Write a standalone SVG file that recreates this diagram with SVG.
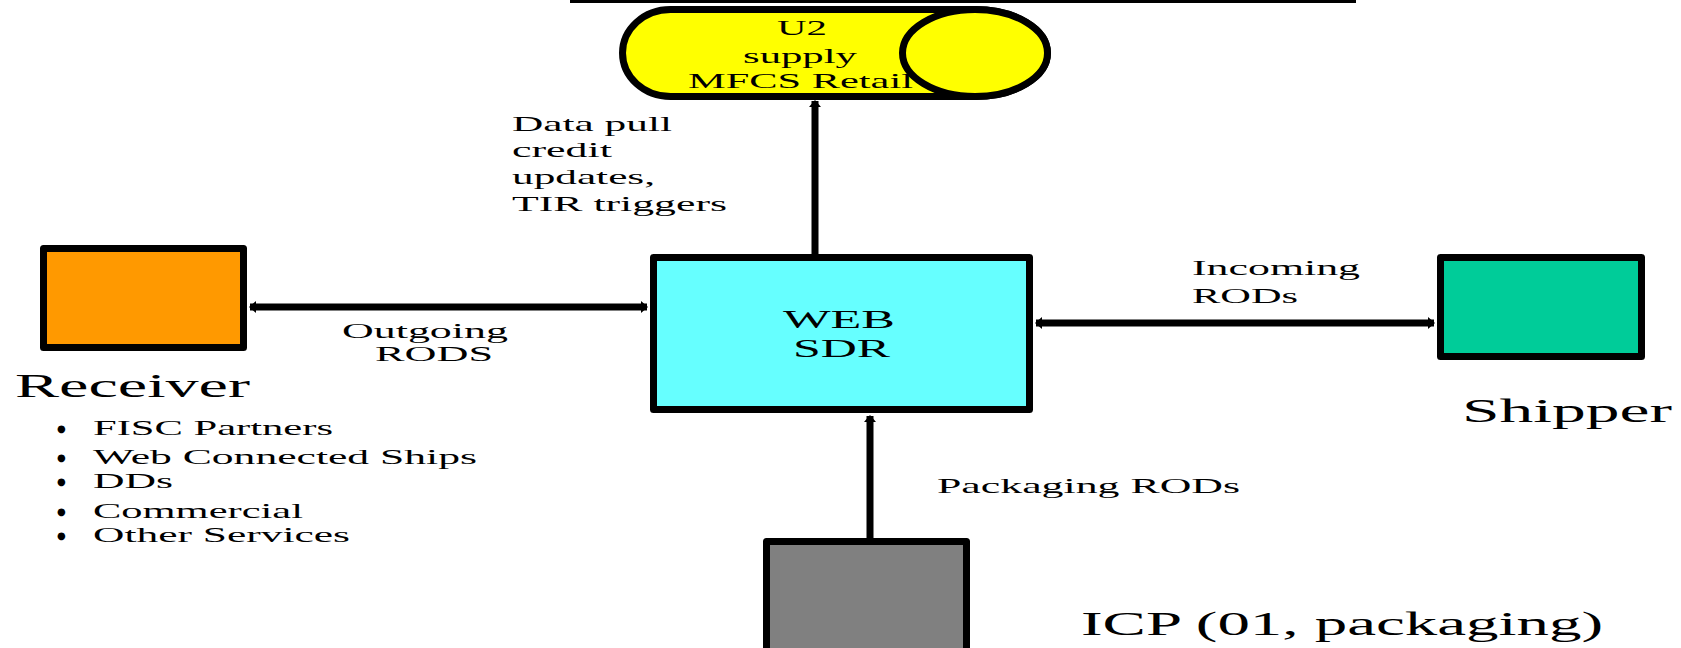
<svg xmlns="http://www.w3.org/2000/svg" width="1681" height="648" viewBox="0 0 1681 648">
  <style>
    .box { stroke: #000; stroke-width: 7; stroke-linejoin: round; }
    .t { font-family: "Liberation Serif", "Times New Roman", serif; fill: #000; }
    .s22 { font-size: 22px; }
    .s26 { font-size: 26px; }
    .s32 { font-size: 33px; }
    .b { font-family: "DejaVu Sans", sans-serif; font-size: 10px; fill: #000; }
    .conn { stroke: #000; stroke-width: 7; fill: none; }
  </style>
  <defs>
    <marker id="arrow" markerUnits="userSpaceOnUse" markerWidth="10" markerHeight="14" viewBox="0 -7 10 14" refX="6" refY="0" orient="auto-start-reverse">
      <path d="M0,-6 L7,0 L0,6 z" fill="#000"/>
    </marker>
  </defs>

  <!-- top rule -->
  <line x1="570" y1="1.5" x2="1356" y2="1.5" stroke="#000" stroke-width="3"/>

  <!-- connectors -->
  <g id="connectors">
    <line class="conn" x1="815" y1="262" x2="815" y2="101" marker-end="url(#arrow)"/>
    <line class="conn" x1="250" y1="307" x2="647" y2="307" marker-start="url(#arrow)" marker-end="url(#arrow)"/>
    <line class="conn" x1="1036" y1="323" x2="1434" y2="323" marker-start="url(#arrow)" marker-end="url(#arrow)"/>
    <line class="conn" x1="870" y1="545" x2="870" y2="416" marker-end="url(#arrow)"/>
  </g>

  <!-- U2 supply cylinder -->
  <g id="node-u2">
    <path class="box" fill="#FFFF00" d="M670.5,9.5 H975 A72.5,43.5 0 0 1 975,96.5 H670.5 A48,43.5 0 0 1 670.5,9.5 Z"/>
    <ellipse class="box" fill="#FFFF00" cx="975" cy="53" rx="72.5" ry="43.5"/>
    <text class="t s22" x="777" y="35" textLength="50" lengthAdjust="spacingAndGlyphs">U2</text>
    <text class="t s22" x="743" y="63" textLength="114" lengthAdjust="spacingAndGlyphs">supply</text>
    <text class="t s22" x="688" y="88" textLength="225" lengthAdjust="spacingAndGlyphs">MFCS Retail</text>
  </g>

  <!-- WEB SDR -->
  <g id="node-websdr">
    <rect class="box" fill="#66FFFF" x="653.5" y="257.5" width="376" height="152"/>
    <text class="t s26" x="783" y="328" textLength="112" lengthAdjust="spacingAndGlyphs">WEB</text>
    <text class="t s26" x="793" y="357" textLength="97" lengthAdjust="spacingAndGlyphs">SDR</text>
  </g>

  <!-- Receiver -->
  <g id="node-receiver">
    <rect class="box" fill="#FF9900" x="43.5" y="248.5" width="200" height="99"/>
    <text class="t s32" x="15" y="397" textLength="235" lengthAdjust="spacingAndGlyphs">Receiver</text>
    <text class="b" x="57" y="432">●</text>
    <text class="t s22" x="93" y="435" textLength="240" lengthAdjust="spacingAndGlyphs">FISC Partners</text>
    <text class="b" x="57" y="461">●</text>
    <text class="t s22" x="93" y="464" textLength="384" lengthAdjust="spacingAndGlyphs">Web Connected Ships</text>
    <text class="b" x="57" y="485">●</text>
    <text class="t s22" x="93" y="488" textLength="80" lengthAdjust="spacingAndGlyphs">DDs</text>
    <text class="b" x="57" y="515">●</text>
    <text class="t s22" x="93" y="518" textLength="210" lengthAdjust="spacingAndGlyphs">Commercial</text>
    <text class="b" x="57" y="539">●</text>
    <text class="t s22" x="93" y="542" textLength="257" lengthAdjust="spacingAndGlyphs">Other Services</text>
  </g>

  <!-- Shipper -->
  <g id="node-shipper">
    <rect class="box" fill="#00CC99" x="1440.5" y="257.5" width="201" height="99"/>
    <text class="t s32" x="1462" y="422" textLength="210" lengthAdjust="spacingAndGlyphs">Shipper</text>
  </g>

  <!-- ICP -->
  <g id="node-icp">
    <rect class="box" fill="#808080" x="766.5" y="541.5" width="200" height="115"/>
    <text class="t s32" x="1081" y="635" textLength="522" lengthAdjust="spacingAndGlyphs">ICP (01, packaging)</text>
  </g>

  <!-- connector labels -->
  <g id="labels">
    <text class="t s22" x="512" y="131" textLength="160" lengthAdjust="spacingAndGlyphs">Data pull</text>
    <text class="t s22" x="512" y="157" textLength="100" lengthAdjust="spacingAndGlyphs">credit</text>
    <text class="t s22" x="512" y="184" textLength="143" lengthAdjust="spacingAndGlyphs">updates,</text>
    <text class="t s22" x="512" y="211" textLength="215" lengthAdjust="spacingAndGlyphs">TIR triggers</text>
    <text class="t s22" x="342" y="338" textLength="166" lengthAdjust="spacingAndGlyphs">Outgoing</text>
    <text class="t s22" x="375" y="361" textLength="118" lengthAdjust="spacingAndGlyphs">RODS</text>
    <text class="t s22" x="1192" y="275" textLength="168" lengthAdjust="spacingAndGlyphs">Incoming</text>
    <text class="t s22" x="1192" y="303" textLength="106" lengthAdjust="spacingAndGlyphs">RODs</text>
    <text class="t s22" x="937" y="493" textLength="303" lengthAdjust="spacingAndGlyphs">Packaging RODs</text>
  </g>
</svg>
